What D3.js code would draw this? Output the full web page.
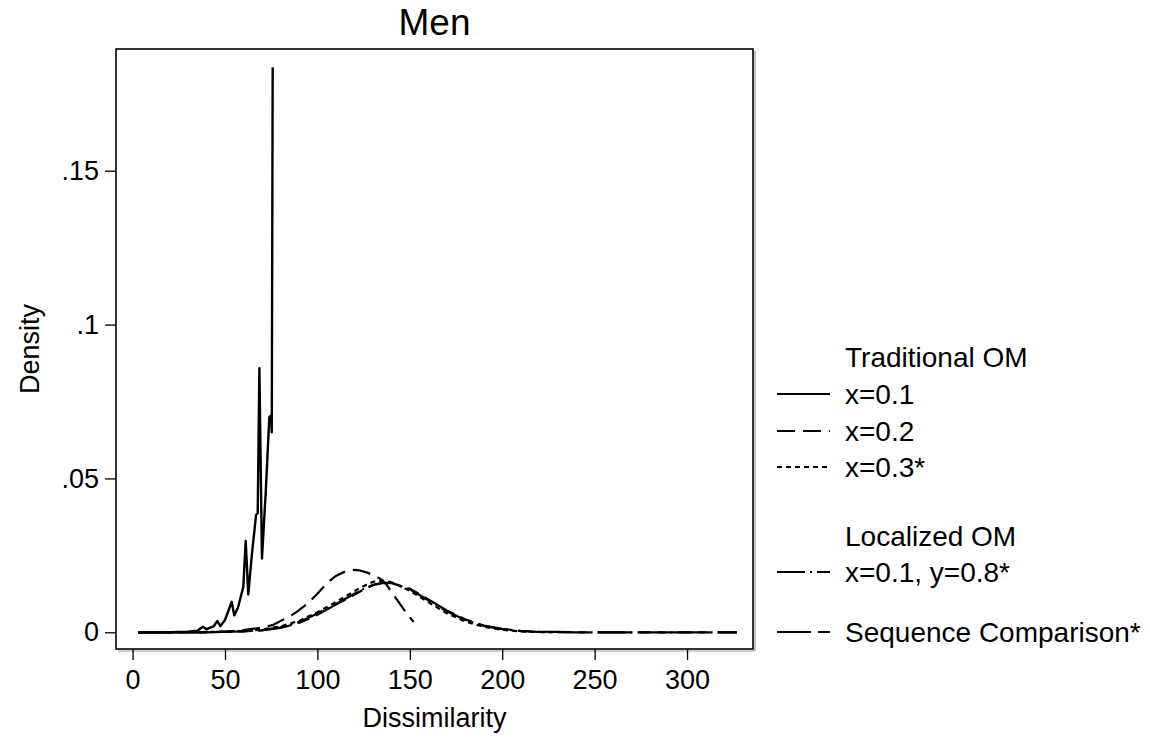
<!DOCTYPE html>
<html>
<head>
<meta charset="utf-8">
<script src="https://cdn.jsdelivr.net/npm/d3@7"></script>
<style>
  html, body { margin: 0; padding: 0; background: #fff; }
  svg { display: block; }
  text { font-family: "Liberation Sans", Arial, Helvetica, sans-serif; fill: #000; }
</style>
</head>
<body>
<svg id="chart" width="1150" height="738"></svg>
<script>
// ---- Data ----
const title = "Men";
const xLabel = "Dissimilarity";
const yLabel = "Density";
const xTicks = [0, 50, 100, 150, 200, 250, 300];
const yTicks = [0, 0.05, 0.1, 0.15];
const yTickLabels = ["0", ".05", ".1", ".15"];

// Traditional OM x=0.1 (spiky)
const tom1X = [3, 20, 30, 35, 38, 40, 44, 45.8, 47.5, 50, 53.6, 55, 57, 59.9, 61.2, 62.6, 64.5, 66.8, 67.7, 68.6, 70.0, 72, 74, 75, 75.3, 75.8];
const tom1Y = [0, 0, 0.0002, 0.0005, 0.0018, 0.001, 0.002, 0.0037, 0.002, 0.004, 0.0099, 0.0055, 0.008, 0.0148, 0.0297, 0.0123, 0.025, 0.0381, 0.0387, 0.0858, 0.024, 0.045, 0.070, 0.0705, 0.065, 0.1836];

// Traditional OM x=0.2
const tom2X = [3, 30, 50, 60, 70, 76, 85, 89, 95, 100, 105, 110, 115, 119, 123, 127, 131, 134, 137, 140, 144, 148, 152];
const tom2Y = [0, 0, 0.0002, 0.0007, 0.0015, 0.0024, 0.0052, 0.0067, 0.0095, 0.0125, 0.0159, 0.0183, 0.0198, 0.0203, 0.0201, 0.0194, 0.0183, 0.0174, 0.0158, 0.0132, 0.0098, 0.0064, 0.0034];

// Traditional OM x=0.3*
const tom3X = [3, 40, 60, 70, 80, 90, 100, 110, 120, 125, 130, 135, 140, 150, 160, 170, 180, 190, 200, 210, 220, 230];
const tom3Y = [0, 0.0001, 0.0004, 0.0009, 0.0019, 0.0037, 0.0065, 0.0098, 0.0134, 0.0150, 0.0164, 0.0168, 0.0163, 0.0135, 0.0098, 0.0062, 0.0035, 0.0018, 0.0008, 0.0003, 0.0001, 0];

// Localized OM x=0.1, y=0.8*
const locX = [3, 40, 60, 70, 80, 90, 100, 110, 120, 125, 130, 135, 140, 150, 160, 170, 180, 190, 200, 210, 220, 240, 260, 280, 300, 327];
const locY = [0, 0, 0.0003, 0.0007, 0.0016, 0.0033, 0.0061, 0.0092, 0.0125, 0.0141, 0.0154, 0.0161, 0.0161, 0.0140, 0.0104, 0.0068, 0.0040, 0.0021, 0.0010, 0.0004, 0.0001, 0, 0, 0, 0, 0];

// Sequence Comparison*
const seqX = [3, 40, 60, 70, 80, 90, 100, 110, 120, 125, 130, 135, 140, 150, 160, 170, 180, 190, 200, 210, 220, 240, 260, 280, 300, 327];
const seqY = [0, 0, 0.0003, 0.0006, 0.0014, 0.0030, 0.0057, 0.0090, 0.0122, 0.0139, 0.0153, 0.0160, 0.0160, 0.0142, 0.0107, 0.0071, 0.0042, 0.0022, 0.0011, 0.0005, 0.0002, 0, 0, 0, 0, 0];

const seriesNames = ["x=0.1", "x=0.2", "x=0.3*", "x=0.1, y=0.8*", "Sequence Comparison*"];
const legendHeaders = ["Traditional OM", "Localized OM"];

// ---- Build series ----
const zip = (xs, ys) => xs.map((v, i) => ({x: v, y: ys[i]}));
const series = [
  {name: seriesNames[0], pts: zip(tom1X, tom1Y), dash: null,         w: 2.4},
  {name: seriesNames[1], pts: zip(tom2X, tom2Y), dash: "18,8",       w: 2.2},
  {name: seriesNames[2], pts: zip(tom3X, tom3Y), dash: "5,4",        w: 2.2},
  {name: seriesNames[3], pts: zip(locX, locY),   dash: "28,5,2,5",   w: 2.2},
  {name: seriesNames[4], pts: zip(seqX, seqY),   dash: "34,7,12,7",  w: 2.2}
];

const svg = d3.select("#chart");
const L = 116, R = 753, T = 49, B = 649;

const x = d3.scaleLinear().domain([-8.98, 335.7]).range([L, R]);
const y = d3.scaleLinear().domain([-0.00543, 0.18955]).range([B, T]);

// frame with light shadow
svg.append("line").attr("x1", L + 2).attr("x2", R + 2).attr("y1", B + 2).attr("y2", B + 2)
  .attr("stroke", "#999").attr("stroke-width", 1.2);
svg.append("line").attr("x1", R + 2).attr("x2", R + 2).attr("y1", T + 2).attr("y2", B + 2)
  .attr("stroke", "#999").attr("stroke-width", 1.2);
svg.append("rect").attr("x", L).attr("y", T).attr("width", R - L).attr("height", B - T)
  .attr("fill", "none").attr("stroke", "#000").attr("stroke-width", 1.6);

// axes
const xAxis = d3.axisBottom(x).tickValues(xTicks).tickSize(11).tickPadding(6).tickFormat(d3.format("d"));
const gx = svg.append("g").attr("transform", `translate(0,${B})`).call(xAxis);
gx.select(".domain").remove();
gx.selectAll("line").attr("stroke", "#000").attr("stroke-width", 1.3);
gx.selectAll("text").attr("font-size", 27).attr("dy", "0.85em");

const yAxis = d3.axisLeft(y).tickValues(yTicks).tickSize(11).tickPadding(6)
  .tickFormat((d, i) => yTickLabels[i]);
const gy = svg.append("g").attr("transform", `translate(${L},0)`).call(yAxis);
gy.select(".domain").remove();
gy.selectAll("line").attr("stroke", "#000").attr("stroke-width", 1.3);
gy.selectAll("text").attr("font-size", 27);

// titles
svg.append("text").attr("x", (L + R) / 2).attr("y", 35).attr("text-anchor", "middle")
  .attr("font-size", 37).text(title);
svg.append("text").attr("x", (L + R) / 2).attr("y", 727).attr("text-anchor", "middle")
  .attr("font-size", 27).text(xLabel);
svg.append("text").attr("transform", `translate(39,${(T + B) / 2}) rotate(-90)`)
  .attr("text-anchor", "middle").attr("font-size", 27).text(yLabel);

// lines
const line = d3.line().x(d => x(d.x)).y(d => y(d.y));
const gLines = svg.append("g");
series.slice().reverse().forEach(s => {
  gLines.append("path").datum(s.pts).attr("d", line)
    .attr("fill", "none").attr("stroke", "#000").attr("stroke-width", s.w)
    .attr("stroke-linejoin", "round")
    .attr("stroke-dasharray", s.dash);
});

// legend
const lx1 = 777, lx2 = 830, tx = 845;
const legendRows = [
  {type: "header", text: legendHeaders[0], y: 357},
  {type: "item", s: 0, y: 394},
  {type: "item", s: 1, y: 431},
  {type: "item", s: 2, y: 467},
  {type: "header", text: legendHeaders[1], y: 536},
  {type: "item", s: 3, y: 572},
  {type: "item", s: 4, y: 632}
];
const gl = svg.append("g");
legendRows.forEach(r => {
  if (r.type === "header") {
    gl.append("text").attr("x", tx).attr("y", r.y).attr("dy", "0.35em").attr("font-size", 28).text(r.text);
  } else {
    const s = series[r.s];
    gl.append("line").attr("x1", lx1).attr("x2", lx2).attr("y1", r.y).attr("y2", r.y)
      .attr("stroke", "#000").attr("stroke-width", 2).attr("stroke-dasharray", s.dash);
    gl.append("text").attr("x", tx).attr("y", r.y).attr("dy", "0.35em").attr("font-size", 28).text(s.name);
  }
});
</script>
</body>
</html>
